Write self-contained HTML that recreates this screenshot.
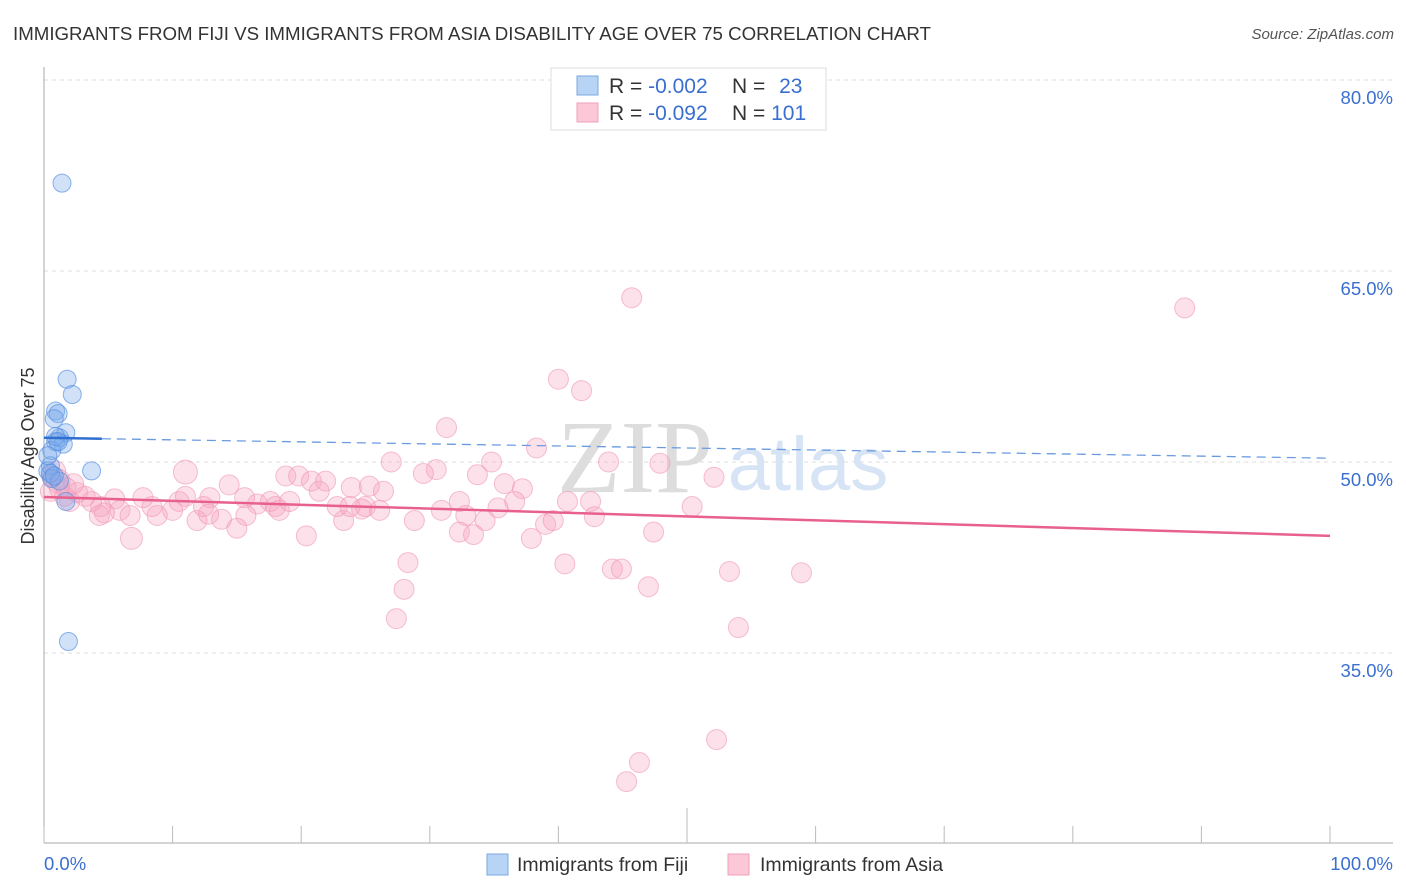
<!DOCTYPE html>
<html><head><meta charset="utf-8"><style>
body{margin:0;background:#fff;font-family:"Liberation Sans",sans-serif}
svg{display:block}
</style></head><body>
<svg id="chart" width="1406" height="892" viewBox="0 0 1406 892" xmlns="http://www.w3.org/2000/svg">
<text x="13" y="40" font-size="18.7" fill="#333">IMMIGRANTS FROM FIJI VS IMMIGRANTS FROM ASIA DISABILITY AGE OVER 75 CORRELATION CHART</text>
<text x="1394" y="39" font-size="15" fill="#555" font-style="italic" text-anchor="end">Source: ZipAtlas.com</text>
<g id="grid"></g>
<g>
<text x="635" y="492" font-size="104" font-family="Liberation Serif,serif" fill="#ddd" text-anchor="middle">ZIP</text>
<text x="808" y="490" font-size="76" fill="#d6e4f5" text-anchor="middle">atlas</text>
</g>
<g id="axes"></g>
<g id="marks"></g>
<text transform="translate(34,456) rotate(-90)" font-size="18" fill="#333" text-anchor="middle">Disability Age Over 75</text>
<g>
<rect x="551" y="68" width="275" height="62" fill="#fff" stroke="#ddd"/>
<rect x="577" y="76" width="21" height="19" fill="#b8d4f5" stroke="#7aa8e0"/>
<rect x="577" y="103" width="21" height="19" fill="#fcc8d8" stroke="#f0a0b8"/>
<text x="609" y="93" font-size="21" fill="#333">R = <tspan fill="#3a6fd0">-0.002</tspan></text>
<text x="732" y="93" font-size="21" fill="#333">N = <tspan fill="#3a6fd0" dx="8">23</tspan></text>
<text x="609" y="120" font-size="21" fill="#333">R = <tspan fill="#3a6fd0">-0.092</tspan></text>
<text x="732" y="120" font-size="21" fill="#333">N = <tspan fill="#3a6fd0">101</tspan></text>
</g>
<g>
<rect x="487" y="854" width="21" height="21" fill="#b8d4f5" stroke="#7aa8e0"/>
<text x="517" y="871" font-size="19.5" fill="#333">Immigrants from Fiji</text>
<rect x="728" y="854" width="21" height="21" fill="#fcc8d8" stroke="#f0a0b8"/>
<text x="760" y="871" font-size="19.5" fill="#333">Immigrants from Asia</text>
</g>
</svg>
<script>
const yTicks=[80,65,50,35];
const yTickLabels=["80.0%","65.0%","50.0%","35.0%"];
const xTickLabels=["0.0%","100.0%"];
const fijiX=[1.4,1.8,2.2,0.9,1.1,0.8,1.7,1.2,0.9,1.5,0.6,0.5,0.3,3.7,0.6,1.7,1.9,0.5,0.9,1.1,0.3,1.2,0.8];
const fijiY=[71.9,56.5,55.3,54.0,53.8,53.4,52.3,51.9,51.6,51.4,50.9,49.7,49.3,49.3,48.7,46.9,35.9,49.1,52.0,51.6,50.5,48.5,48.9];
const asiaX=[45.7,88.7,40.0,41.8,31.3,38.3,43.9,47.9,34.8,30.5,27.0,29.5,33.7,52.1,11.0,14.4,18.8,19.8,20.8,21.9,23.9,25.3,26.4,21.4,35.8,37.2,36.6,40.7,42.5,50.4,30.9,32.8,35.3,34.3,42.8,39.0,39.6,37.9,32.3,33.4,47.4,20.4,23.3,28.8,25.0,22.8,24.7,17.6,16.6,18.0,18.3,15.6,12.9,15.7,13.8,15.0,11.9,10.5,11.0,12.4,10.0,8.8,8.4,7.7,5.5,5.9,4.7,6.7,6.8,4.4,3.7,3.2,2.6,2.0,1.6,1.1,0.9,1.2,2.3,0.5,28.3,28.0,27.4,40.5,44.2,44.9,47.0,53.3,58.9,54.0,52.3,46.3,45.3,12.8,19.1,23.8,26.1,32.3,4.3,0.6,1.7];
const asiaY=[62.9,62.1,56.5,55.6,52.7,51.1,50.0,49.9,50.0,49.4,50.0,49.1,49.0,48.8,49.2,48.2,48.9,48.9,48.5,48.5,48.0,48.1,47.7,47.7,48.3,47.9,46.9,46.9,46.9,46.5,46.2,45.8,46.4,45.4,45.7,45.1,45.4,44.0,44.5,44.3,44.5,44.2,45.4,45.4,46.5,46.5,46.3,46.9,46.7,46.5,46.2,47.2,47.2,45.8,45.5,44.8,45.4,46.9,47.3,46.5,46.2,45.8,46.5,47.2,47.1,46.2,46.0,45.8,44.0,46.5,46.9,47.3,47.6,46.9,47.3,48.5,49.3,47.9,48.3,47.7,42.1,40.0,37.7,42.0,41.6,41.6,40.2,41.4,41.3,37.0,28.2,26.4,24.9,45.9,46.9,46.5,46.2,46.9,45.8,48.9,48.0];
const asiaR={14:12,68:11,4:10,75:12};
const fijiTrend=[51.9,50.3];
const asiaTrend=[47.25,44.2];
const NS='http://www.w3.org/2000/svg';
const X=v=>44+v*12.86, Y=v=>80+(80-v)*12.733;
function mk(p,t,a){const e=document.createElementNS(NS,t);for(const k in a)e.setAttribute(k,a[k]);p.appendChild(e);return e;}
const grid=document.getElementById('grid'),axes=document.getElementById('axes'),marks=document.getElementById('marks');
yTicks.forEach((t,i)=>{
 const l=mk(grid,'line',{x1:44,x2:1393,y1:Y(t),y2:Y(t),stroke:'#ddd','stroke-dasharray':'4,4'});
 
 
 const tx=mk(axes,'text',{x:1393,y:Y(t)+24,'font-size':18.5,fill:'#3a6fd0','text-anchor':'end'});
 tx.textContent=yTickLabels[i];
 
 
});
const ya=mk(axes,'line',{x1:44,x2:44,y1:67,y2:843,stroke:'#aaa'});


const xa=mk(axes,'line',{x1:44,x2:1393,y1:843,y2:843,stroke:'#aaa'});


for(let i=0;i<=10;i++){
 const tk=mk(axes,'line',{x1:X(i*10),x2:X(i*10),y1:i==5?808:826,y2:843,stroke:'#bbb'});
 
 
}
xTickLabels.forEach((s,i)=>{
 const tx=mk(axes,'text',{x:i?1393:44,y:870,'font-size':18.5,fill:'#3a6fd0','text-anchor':i?'end':'start'});
 tx.textContent=s;
 
 
});
asiaX.forEach((v,i)=>{
 const c=mk(marks,'circle',{cx:X(v),cy:Y(asiaY[i]),r:asiaR[i]||10,fill:'rgba(246,165,195,0.35)',stroke:'rgba(240,150,180,0.6)','stroke-width':1});
 
 
});
fijiX.forEach((v,i)=>{
 const c=mk(marks,'circle',{cx:X(v),cy:Y(fijiY[i]),r:9,fill:'rgba(120,170,235,0.35)',stroke:'rgba(80,140,225,0.65)','stroke-width':1});
 
 
});
const ft=mk(marks,'line',{x1:X(0),x2:X(4.5),y1:Y(fijiTrend[0]),y2:Y(fijiTrend[0]+(fijiTrend[1]-fijiTrend[0])*0.045),stroke:'#2f6fd0','stroke-width':2.5});


const fd=mk(marks,'line',{x1:X(4.5),x2:X(100),y1:Y(fijiTrend[0]+(fijiTrend[1]-fijiTrend[0])*0.045),y2:Y(fijiTrend[1]),stroke:'#6a9be0','stroke-width':1.3,'stroke-dasharray':'9,6'});


const at=mk(marks,'line',{x1:X(0),x2:X(100),y1:Y(asiaTrend[0]),y2:Y(asiaTrend[1]),stroke:'#e8608c','stroke-width':2.5});


</script>
</body></html>
